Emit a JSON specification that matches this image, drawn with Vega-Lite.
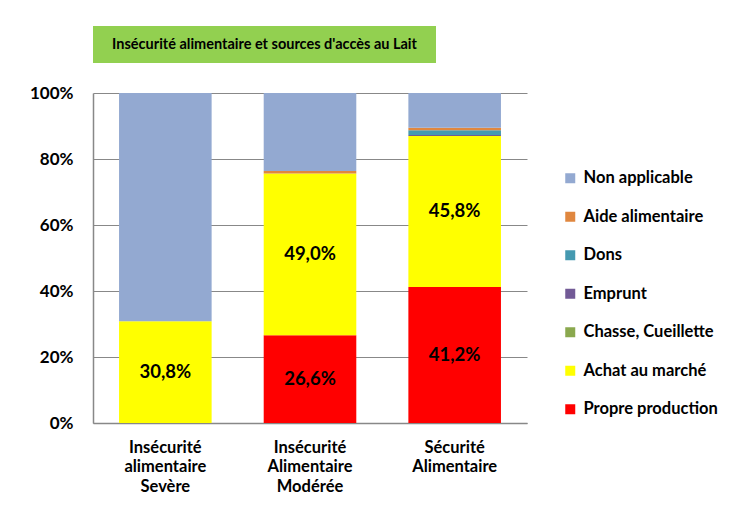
{
  "$schema": "https://vega.github.io/schema/vega-lite/v6.json",
  "background": "white",
  "padding": {"left": 29, "top": 26, "right": 5, "bottom": 5},
  "config": {"font": "Lato", "view": {"stroke": null}},
  "bounds": "flush",
  "spacing": 30,
  "vconcat": [
    {
      "width": 343,
      "height": 37,
      "view": {"fill": "#92D050", "stroke": null},
      "data": {"values": [{"titre": "Insécurité alimentaire et sources d'accès au Lait"}]},
      "mark": {"type": "text", "font": "Lato", "fontWeight": "bold", "fontSize": 14.5, "color": "#000000"},
      "encoding": {"text": {"field": "titre", "type": "nominal"}}
    },
    {
      "width": 434,
      "height": 330,
      "data": {
        "values": [
          {"cat": "Insécurité alimentaire Sevère", "source": "Achat au marché", "value": 30.8},
          {"cat": "Insécurité alimentaire Sevère", "source": "Non applicable", "value": 69.2},
          {"cat": "Insécurité Alimentaire Modérée", "source": "Propre production", "value": 26.6},
          {"cat": "Insécurité Alimentaire Modérée", "source": "Achat au marché", "value": 49.0},
          {"cat": "Insécurité Alimentaire Modérée", "source": "Aide alimentaire", "value": 0.8},
          {"cat": "Insécurité Alimentaire Modérée", "source": "Non applicable", "value": 23.6},
          {"cat": "Sécurité Alimentaire", "source": "Propre production", "value": 41.2},
          {"cat": "Sécurité Alimentaire", "source": "Achat au marché", "value": 45.8},
          {"cat": "Sécurité Alimentaire", "source": "Emprunt", "value": 0.3},
          {"cat": "Sécurité Alimentaire", "source": "Dons", "value": 1.4},
          {"cat": "Sécurité Alimentaire", "source": "Aide alimentaire", "value": 0.8},
          {"cat": "Sécurité Alimentaire", "source": "Non applicable", "value": 10.5}
        ]
      },
      "transform": [
        {"calculate": "indexof(['Propre production','Achat au marché','Chasse, Cueillette','Emprunt','Dons','Aide alimentaire','Non applicable'], datum.source)", "as": "ord"},
        {"stack": "value", "groupby": ["cat"], "sort": [{"field": "ord", "order": "ascending"}], "as": ["v0", "v1"]}
      ],
      "layer": [
        {
          "mark": {"type": "bar"},
          "encoding": {
            "x": {
              "field": "cat", "type": "nominal",
              "sort": ["Insécurité alimentaire Sevère", "Insécurité Alimentaire Modérée", "Sécurité Alimentaire"],
              "scale": {"paddingInner": 0.36, "paddingOuter": 0.18},
              "axis": {
                "title": null, "labelAngle": 0, "labelExpr": "split(datum.label, ' ')",
                "labelFont": "Lato", "labelFontWeight": "bold", "labelFontSize": 16.5, "labelColor": "#000000",
                "labelLineHeight": 19.5, "labelPadding": 16, "ticks": false,
                "domainColor": "#888888", "domainWidth": 1.5
              }
            },
            "y": {
              "field": "v0", "type": "quantitative",
              "scale": {"domain": [0, 100], "nice": false},
              "axis": {
                "title": null, "values": [0, 20, 40, 60, 80, 100],
                "labelExpr": "datum.value + '%'",
                "labelFont": "Lato", "labelFontWeight": "bold", "labelFontSize": 17, "labelColor": "#000000",
                "labelPadding": 20, "ticks": false,
                "grid": true, "gridColor": "#888888", "gridWidth": 1,
                "domainColor": "#888888", "domainWidth": 1.5
              }
            },
            "y2": {"field": "v1"},
            "color": {
              "field": "source", "type": "nominal",
              "scale": {
                "domain": ["Non applicable", "Aide alimentaire", "Dons", "Emprunt", "Chasse, Cueillette", "Achat au marché", "Propre production"],
                "range": ["#93A9D1", "#E0873F", "#4599B0", "#725A96", "#8AA84E", "#FFFF00", "#FF0000"]
              },
              "legend": {
                "title": null, "orient": "none", "legendX": 469, "legendY": 144,
                "symbolType": "square", "symbolSize": 100, "symbolStrokeWidth": 0,
                "labelFont": "Lato", "labelFontWeight": "bold", "labelFontSize": 16.5, "labelColor": "#000000",
                "labelOffset": 5, "rowPadding": 21.5, "padding": 0
              }
            }
          }
        },
        {
          "transform": [
            {"filter": {"field": "source", "oneOf": ["Propre production", "Achat au marché"]}},
            {"calculate": "(datum.v0 + datum.v1) / 2", "as": "mid"},
            {"calculate": "replace(format(datum.value, '.1f'), '.', ',') + '%'", "as": "label"}
          ],
          "mark": {"type": "text", "font": "Lato", "fontWeight": "bold", "fontSize": 18.5, "color": "#000000"},
          "encoding": {
            "x": {"field": "cat", "type": "nominal", "sort": ["Insécurité alimentaire Sevère", "Insécurité Alimentaire Modérée", "Sécurité Alimentaire"]},
            "y": {"field": "mid", "type": "quantitative"},
            "text": {"field": "label", "type": "nominal"}
          }
        }
      ]
    }
  ]
}
